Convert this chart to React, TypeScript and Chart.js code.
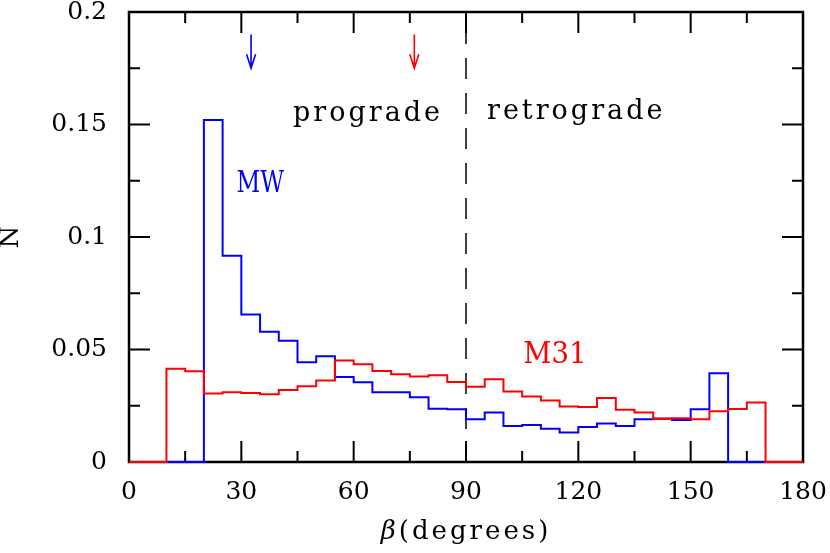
import React, { useEffect, useRef } from "react";
import { Chart, registerables } from "chart.js";
Chart.register(...registerables);

// ---------- data ----------
const BIN_WIDTH = 5;
const X_MIN = 0;
const X_MAX = 180;
const Y_MIN = 0;
const Y_MAX = 0.2;

const m31Start = 10;
const m31Values = [
  0.0415, 0.0403, 0.0304, 0.031, 0.0307, 0.0301, 0.032, 0.0337, 0.0362, 0.0451,
  0.0435, 0.0404, 0.039, 0.038, 0.0386, 0.0356, 0.0334, 0.0368, 0.0313, 0.0291,
  0.0273, 0.0247, 0.0245, 0.0284, 0.0232, 0.022, 0.0191, 0.0194, 0.019, 0.0226,
  0.0236, 0.0264,
];

const mwStart = 20;
const mwValues = [
  0.152, 0.0917, 0.0656, 0.0579, 0.0539, 0.0443, 0.047, 0.0378, 0.0355, 0.031,
  0.031, 0.0288, 0.0237, 0.0234, 0.019, 0.022, 0.016, 0.0165, 0.0148, 0.0131,
  0.0156, 0.0171, 0.016, 0.019, 0.0193, 0.0187, 0.0235, 0.0395,
];

const xTickLabels = [0, 30, 60, 90, 120, 150, 180];
const yTickLabels = [0, 0.05, 0.1, 0.15, 0.2];
const xMinorStep = 15;
const yMinorStep = 0.025;

const dividerX = 90;
const arrowXs = [32.6, 76.2];
const arrowColors = ["#0000ff", "#ff0000"];
const arrowTop = 0.19;
const arrowBottom = 0.175;

const labels = [
  { text: "prograde", x: 43.8, y: 0.1517, color: "#000000", size: 27, spacing: 3, sx: 1 },
  { text: "retrograde", x: 95.6, y: 0.1524, color: "#000000", size: 27, spacing: 3, sx: 1 },
  { text: "MW", x: 28.7, y: 0.12, color: "#0000ff", size: 29, spacing: 0, sx: 0.8 },
  { text: "M31", x: 105.3, y: 0.0442, color: "#ff0000", size: 29, spacing: 0, sx: 0.95 },
];

const BLUE = "#0000ff";
const RED = "#ff0000";
const FONT = '"DejaVu Serif", serif';

function toSteps(start: number, values: number[]) {
  const pts: { x: number; y: number }[] = [{ x: X_MIN, y: 0 }];
  values.forEach((v, i) => pts.push({ x: start + i * BIN_WIDTH, y: v }));
  pts.push({ x: start + values.length * BIN_WIDTH, y: 0 });
  pts.push({ x: X_MAX, y: 0 });
  return pts;
}

const framePlugin = {
  id: "frame",
  beforeDatasetsDraw(chart: any) {
    const { ctx, chartArea: a, scales } = chart;
    const xs = scales.x;
    const ys = scales.y;
    ctx.save();
    ctx.strokeStyle = "#000";

    // dashed divider
    const xd = xs.getPixelForValue(dividerX);
    ctx.lineWidth = 1.5;
    ctx.setLineDash([21, 14]);
    ctx.lineDashOffset = 24;
    ctx.beginPath();
    ctx.moveTo(xd, a.top);
    ctx.lineTo(xd, a.bottom);
    ctx.stroke();
    ctx.setLineDash([]);

    // ticks
    ctx.lineWidth = 2;
    ctx.beginPath();
    for (let v = X_MIN; v <= X_MAX + 1e-9; v += xMinorStep) {
      const px = xs.getPixelForValue(v);
      const major = xTickLabels.some((t) => Math.abs(t - v) < 1e-6);
      const len = major ? 21 : 11;
      ctx.moveTo(px, a.bottom);
      ctx.lineTo(px, a.bottom - len);
      ctx.moveTo(px, a.top);
      ctx.lineTo(px, a.top + len);
    }
    for (let i = 0; i * yMinorStep <= Y_MAX + 1e-9; i++) {
      const v = i * yMinorStep;
      const py = ys.getPixelForValue(v);
      const major = yTickLabels.some((t) => Math.abs(t - v) < 1e-6);
      const len = major ? 21 : 11;
      ctx.moveTo(a.left, py);
      ctx.lineTo(a.left + len, py);
      ctx.moveTo(a.right, py);
      ctx.lineTo(a.right - len, py);
    }
    ctx.stroke();

    // frame
    ctx.lineWidth = 2.5;
    ctx.strokeRect(a.left, a.top, a.right - a.left, a.bottom - a.top);
    ctx.restore();
  },
};

const decorPlugin = {
  id: "decor",
  afterDatasetsDraw(chart: any) {
    const { ctx, chartArea: a, scales } = chart;
    const xs = scales.x;
    const ys = scales.y;
    ctx.save();

    // arrows
    ctx.lineWidth = 1.6;
    arrowXs.forEach((xv, i) => {
      const px = xs.getPixelForValue(xv);
      const y0 = ys.getPixelForValue(arrowTop);
      const y1 = ys.getPixelForValue(arrowBottom);
      ctx.strokeStyle = arrowColors[i];
      ctx.beginPath();
      ctx.moveTo(px, y0);
      ctx.lineTo(px, y1);
      ctx.moveTo(px - 4.5, y1 - 14);
      ctx.lineTo(px, y1);
      ctx.lineTo(px + 4.5, y1 - 14);
      ctx.stroke();
    });

    // text labels
    ctx.textAlign = "left";
    ctx.textBaseline = "alphabetic";
    labels.forEach((l) => {
      ctx.save();
      ctx.font = `${l.size}px ${FONT}`;
      ctx.fillStyle = l.color;
      (ctx as any).letterSpacing = `${l.spacing}px`;
      const px = xs.getPixelForValue(l.x);
      const py = ys.getPixelForValue(l.y);
      ctx.translate(px, py);
      ctx.scale(l.sx, 1);
      ctx.fillText(l.text, 0, 0);
      ctx.restore();
    });

    // x axis title
    ctx.save();
    ctx.fillStyle = "#000";
    (ctx as any).letterSpacing = "3px";
    ctx.font = `italic 26px ${FONT}`;
    const w1 = ctx.measureText("β").width;
    ctx.font = `26px ${FONT}`;
    const w2 = ctx.measureText("(degrees)").width;
    const cx = (a.left + a.right) / 2;
    const startX = cx - (w1 + w2) / 2;
    ctx.font = `italic 26px ${FONT}`;
    ctx.fillText("β", startX, 539);
    ctx.font = `26px ${FONT}`;
    ctx.fillText("(degrees)", startX + w1, 539);
    ctx.restore();

    // y axis title
    ctx.save();
    ctx.fillStyle = "#000";
    ctx.font = `26px ${FONT}`;
    ctx.translate(11, (a.top + a.bottom) / 2);
    ctx.rotate(-Math.PI / 2);
    ctx.textAlign = "center";
    ctx.textBaseline = "middle";
    ctx.fillText("N", 0, 0);
    ctx.restore();

    ctx.restore();
  },
};

function zeroPad(s: any) {
  s.paddingLeft = 0;
  s.paddingRight = 0;
  s.paddingTop = 0;
  s.paddingBottom = 0;
}

export default function App() {
  const ref = useRef<HTMLCanvasElement | null>(null);
  useEffect(() => {
    if (!ref.current) return;
    const chart = new Chart(ref.current, {
      type: "line",
      data: {
        datasets: [
          {
            label: "M31",
            data: toSteps(m31Start, m31Values),
            borderColor: RED,
            borderWidth: 2,
            stepped: "before",
            pointRadius: 0,
            fill: false,
            clip: 4,
          },
          {
            label: "MW",
            data: toSteps(mwStart, mwValues),
            borderColor: BLUE,
            borderWidth: 2,
            stepped: "before",
            pointRadius: 0,
            fill: false,
            clip: 4,
          },
        ],
      },
      options: {
        animation: false,
        responsive: false,
        layout: { padding: { top: 12, right: 27, left: 0, bottom: 0 } },
        plugins: { legend: { display: false }, tooltip: { enabled: false } },
        scales: {
          x: {
            type: "linear",
            min: X_MIN,
            max: X_MAX,
            afterFit: (s: any) => {
              s.height = 91;
              zeroPad(s);
            },
            afterBuildTicks: (s: any) => {
              s.ticks = xTickLabels.map((v) => ({ value: v }));
            },
            grid: { display: false, drawTicks: false },
            border: { display: false },
            ticks: {
              padding: 15,
              color: "#000",
              font: { family: "DejaVu Serif", size: 25 },
              maxRotation: 0,
              autoSkip: false,
              callback: (v: any) => String(v),
            },
          },
          y: {
            type: "linear",
            min: Y_MIN,
            max: Y_MAX,
            afterFit: (s: any) => {
              s.width = 129;
              zeroPad(s);
            },
            afterBuildTicks: (s: any) => {
              s.ticks = yTickLabels.map((v) => ({ value: v }));
            },
            grid: { display: false, drawTicks: false },
            border: { display: false },
            ticks: {
              padding: 22,
              color: "#000",
              font: { family: "DejaVu Serif", size: 25 },
              autoSkip: false,
              callback: (v: any) => String(Number(Number(v).toFixed(3))),
            },
          },
        },
      },
      plugins: [framePlugin, decorPlugin],
    });
    return () => chart.destroy();
  }, []);
  return (
    <div style={{ position: "fixed", left: 0, top: 0, width: 830, height: 553, background: "#fff" }}>
      <canvas ref={ref} width={830} height={553} style={{ display: "block" }} />
    </div>
  );
}
